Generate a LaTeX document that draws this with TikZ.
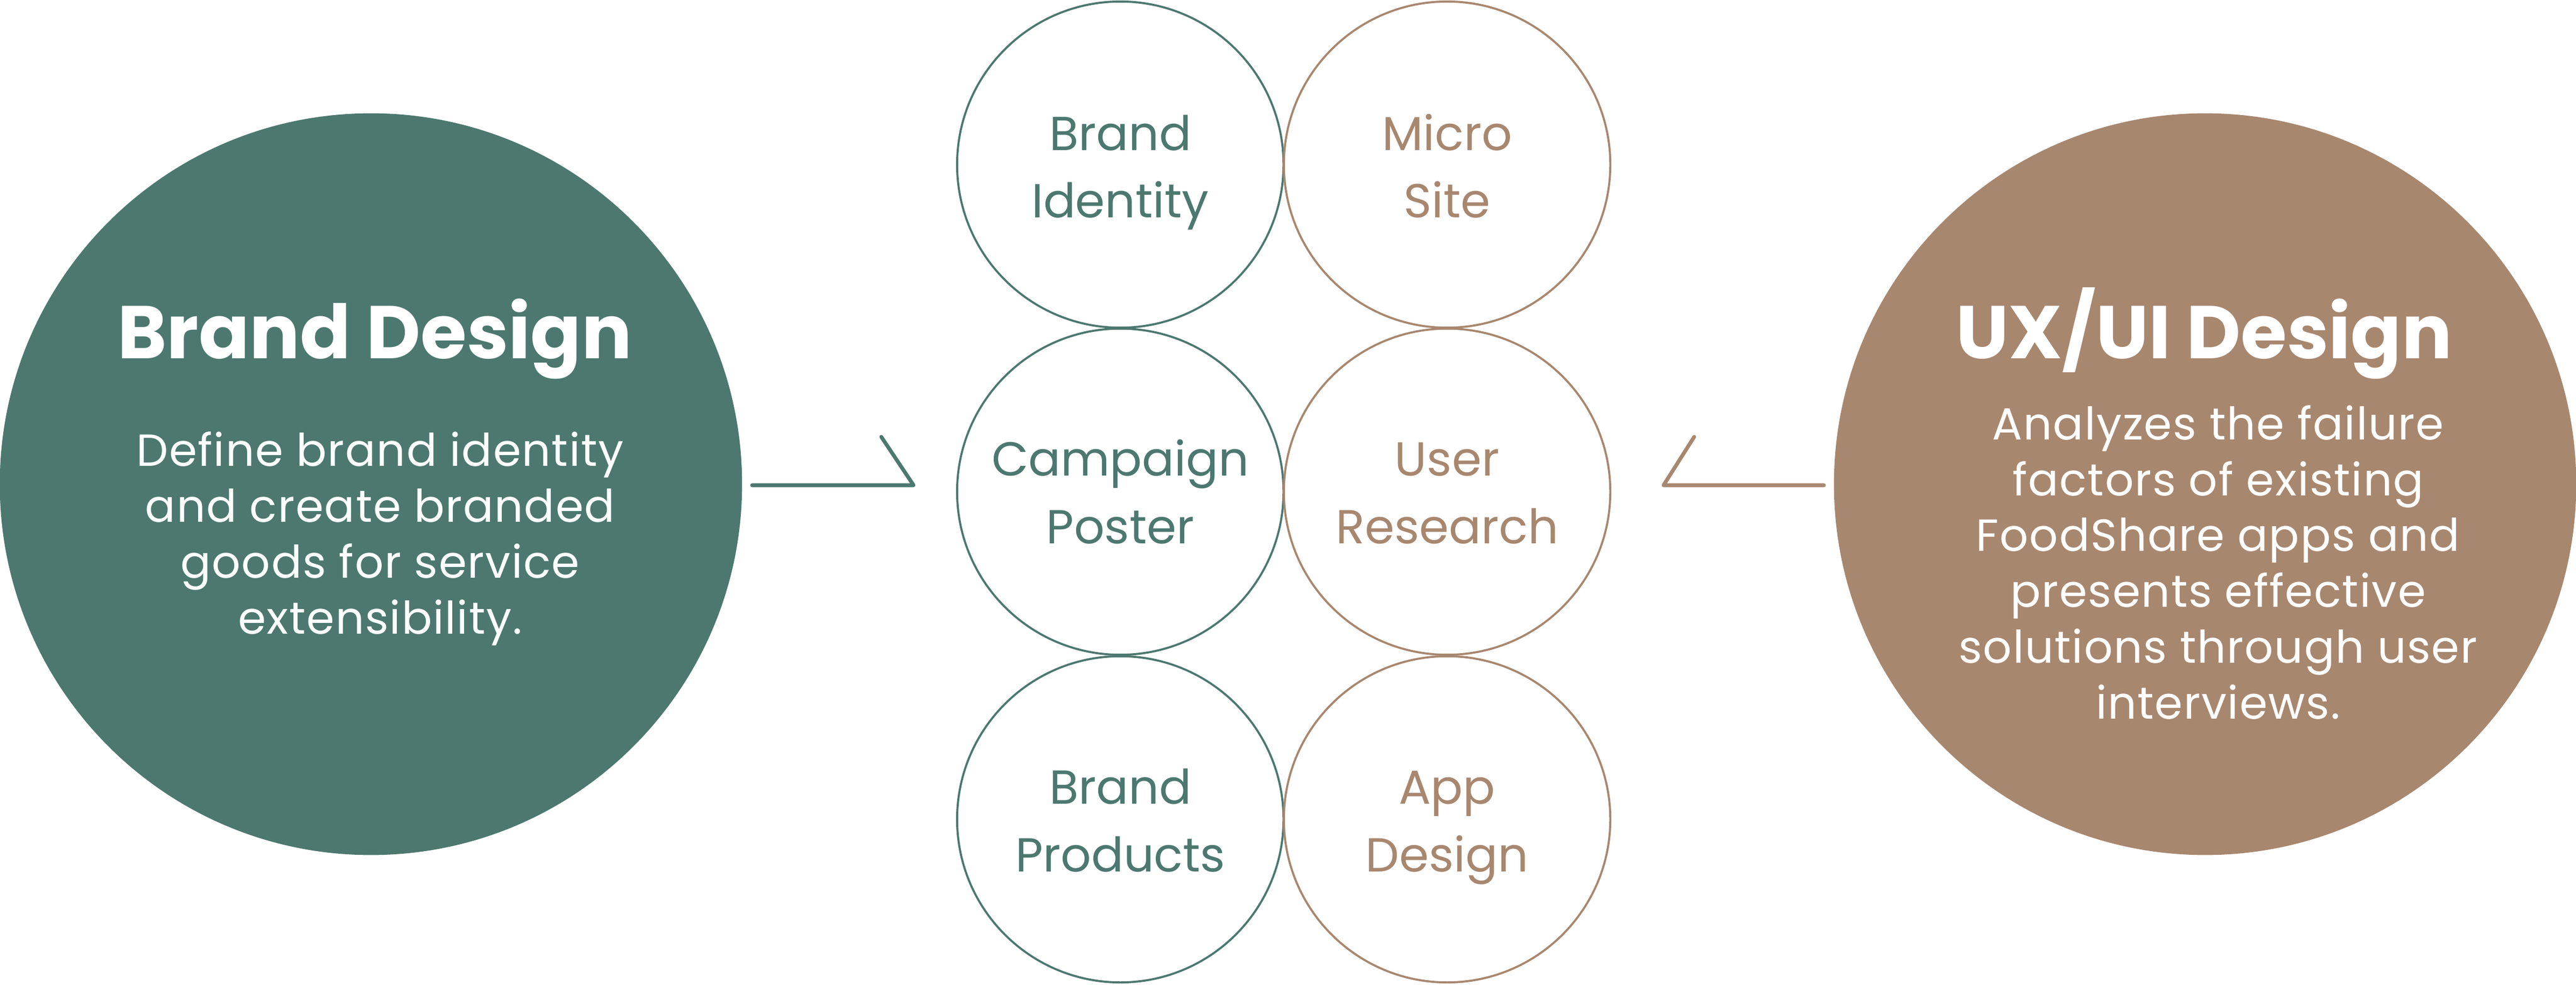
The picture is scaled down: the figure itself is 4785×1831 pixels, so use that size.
\documentclass[tikz,border=0pt]{standalone}
\usepackage{fontspec}
\setmainfont{Poppins}
\newfontfamily\bodyfont[LetterSpace=2.0]{Poppins}
\definecolor{sgreen}{HTML}{4C786F}
\definecolor{sbrown}{HTML}{A8876F}
\begin{document}
\begin{tikzpicture}[x=0.01cm,y=-0.01cm,
  big/.style={circle,inner sep=0pt,minimum size=13.78cm},
  small/.style={circle,inner sep=0pt,minimum size=6.06cm,line width=1.1pt},
  title/.style={font=\fontsize{39.5}{44}\selectfont\bfseries,text=white,anchor=base,inner sep=0pt},
  body/.style={font=\bodyfont\fontsize{23.8}{29.5}\selectfont,text=white,align=center,anchor=base,inner sep=0pt},
  stxt/.style={font=\fontsize{25.2}{35.8}\selectfont,align=center,inner sep=0pt,anchor=base},
  conn/.style={line width=2pt,line cap=round,line join=round}]
\useasboundingbox (0,0) rectangle (4785,1831);
% big circles
\node[big,fill=sgreen] (bd) at (689,900) {};
\node[big,fill=sbrown] (ux) at (4096,900) {};
\node[title] (bdt) at (696,667) {Brand Design};
\node[body] (bdb) at (706,1178) {Define brand identity\\and create branded\\goods for service\\extensibility.};
\node[title] (uxt) at (4094,667) {UX/UI Design};
\node[body] (uxb) at (4120,1336) {Analyzes the failure\\factors of existing\\FoodShare apps and\\presents effective\\solutions through user\\interviews.};
% small circles
\node[small,draw=sgreen] (c1) at (2081,306) {};
\node[small,draw=sbrown] (c2) at (2688,306) {};
\node[small,draw=sgreen] (c3) at (2081,914) {};
\node[small,draw=sbrown] (c4) at (2688,914) {};
\node[small,draw=sgreen] (c5) at (2081,1523) {};
\node[small,draw=sbrown] (c6) at (2688,1523) {};
\node[stxt,text=sgreen] (t1) at (2081,405) {Brand\\Identity};
\node[stxt,text=sbrown] (t2) at (2688,405) {Micro\\Site};
\node[stxt,text=sgreen] (t3) at (2081,1010) {Campaign\\Poster};
\node[stxt,text=sbrown] (t4) at (2688,1010) {User\\Research};
\node[stxt,text=sgreen] (t5) at (2081,1620) {Brand\\Products};
\node[stxt,text=sbrown] (t6) at (2688,1620) {App\\Design};
% connectors
\coordinate (la) at (1397,902);
\coordinate (lb) at (1697,902);
\coordinate (lc) at (1637,812);
\coordinate (ra) at (3388,902);
\coordinate (rb) at (3090,902);
\coordinate (rc) at (3147,812);
\draw[conn,sgreen] (la) -- (lb) -- (lc);
\draw[conn,sbrown] (ra) -- (rb) -- (rc);
\end{tikzpicture}
\end{document}
